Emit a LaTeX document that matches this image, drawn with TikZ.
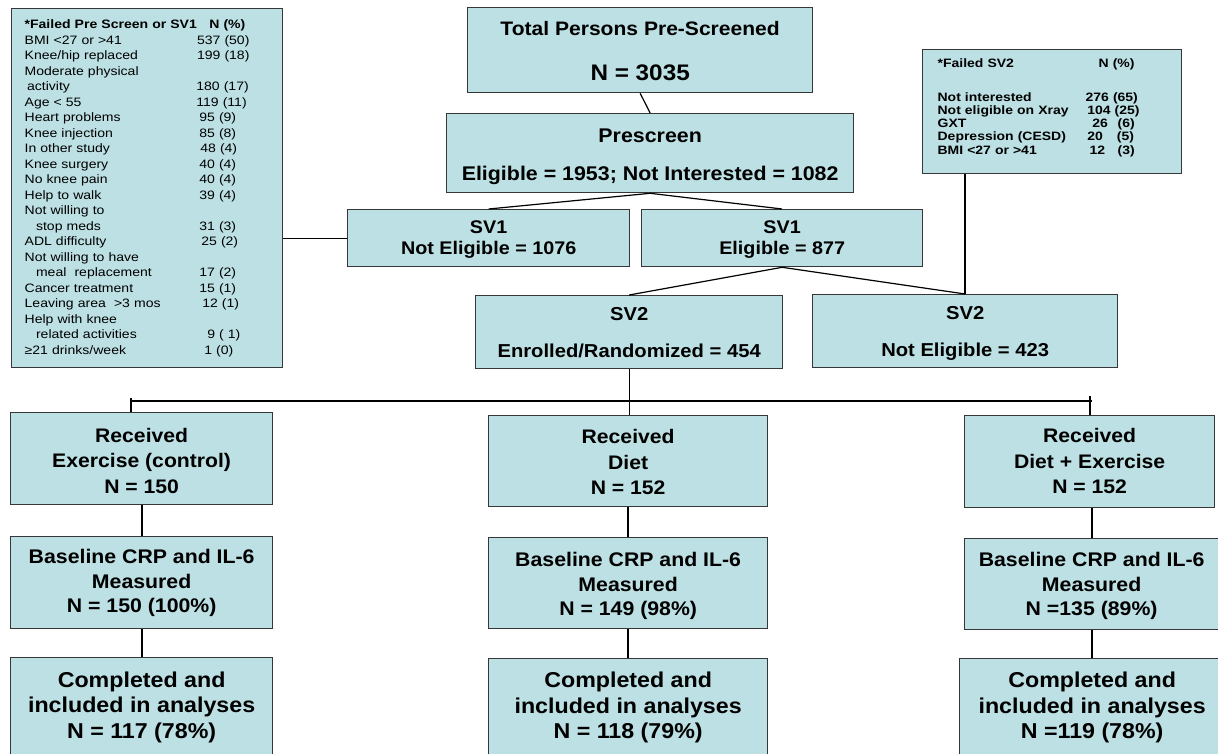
\documentclass[tikz,border=0pt]{standalone}
\usepackage{fontspec}
\setmainfont{Liberation Sans}[FakeStretch=1.08]
\newfontfamily\smallfam{Liberation Sans}[FakeStretch=1.15]
\definecolor{boxfill}{RGB}{188,224,227}
\definecolor{boxline}{RGB}{55,55,55}
\newcommand{\LRow}[3]{\makebox[#1pt][l]{#2}{#3}}
\begin{document}
\begin{tikzpicture}[x=1pt,y=-1pt,
  box/.style={draw=boxline, fill=boxfill, line width=1.3pt, inner sep=0pt,
    anchor=north west, align=center, text depth=0pt},
  th/.style={text height=#1pt},
  listbox/.style={text height=0pt, text depth=#1pt},
  conn/.style={draw=black, line width=1.2pt},
  vconn/.style={draw=black, line width=1.9pt},
  fTop/.style={font=\fontsize{19.5}{45}\selectfont\bfseries},
  fPre/.style={font=\fontsize{19.8}{38}\selectfont\bfseries},
  fSVa/.style={font=\fontsize{18.3}{21}\selectfont\bfseries},
  fSVb/.style={font=\fontsize{18.7}{37}\selectfont\bfseries},
  fRec/.style={font=\fontsize{19.6}{25.5}\selectfont\bfseries},
  fBase/.style={font=\fontsize{19.7}{24.5}\selectfont\bfseries},
  fComp/.style={font=\fontsize{21.5}{25.5}\selectfont\bfseries},
  fList/.style={font=\smallfam\fontsize{12.2}{15.48}\selectfont},
  fList2/.style={font=\smallfam\bfseries\fontsize{12.15}{13.2}\selectfont}
]
\useasboundingbox (0,0) rectangle (1218,754);
\fill[white] (0,0) rectangle (1218,754);
\clip (0,0) rectangle (1218,754);

% top chain
\node[box, fTop, th=61, minimum width=345pt, minimum height=85pt] (total) at (467,7)
  {Total Persons Pre-Screened\\{\fontsize{22.5}{22}\selectfont N = 3035}};
\node[box, fPre, th=55, minimum width=407pt, minimum height=79pt] (pre) at (446,113)
  {Prescreen\\Eligible = 1953; Not Interested = 1082};
\node[box, fSVa, th=33, minimum width=282pt, minimum height=57pt] (sv1ne) at (347,209)
  {SV1\\Not Eligible = 1076};
\node[box, fSVa, th=33, minimum width=281pt, minimum height=57pt] (sv1e) at (641,209)
  {SV1\\Eligible = 877};
\node[box, fSVb, th=51, minimum width=307pt, minimum height=73pt] (sv2e) at (475,295)
  {SV2\\Enrolled/Randomized = 454};
\node[box, fSVb, th=51, minimum width=305pt, minimum height=73pt] (sv2n) at (812,294)
  {SV2\\Not Eligible = 423};

% left list box
\node[box, fList, listbox=318.4, align=left, text width=245pt, minimum width=271pt, minimum height=359pt] (left) at (11,8) {%
\LRow{184.7}{\bfseries *Failed Pre Screen or SV1}{\bfseries N (\%)}\\
\LRow{172.4}{BMI <27 or >41}{537 (50)}\\
\LRow{172.4}{Knee/hip replaced}{199 (18)}\\
Moderate physical\\
\LRow{171.7}{\hspace*{2.4pt}activity}{180 (17)}\\
\LRow{171.7}{Age < 55}{119 (11)}\\
\LRow{174.7}{Heart problems}{95 (9)}\\
\LRow{174.7}{Knee injection}{85 (8)}\\
\LRow{175.7}{In other study}{48 (4)}\\
\LRow{174.7}{Knee surgery}{40 (4)}\\
\LRow{174.7}{No knee pain}{40 (4)}\\
\LRow{174.7}{Help to walk}{39 (4)}\\
Not willing to\\
\LRow{174.7}{\hspace*{11.4pt}stop meds}{31 (3)}\\
\LRow{176.7}{ADL difficulty}{25 (2)}\\
Not willing to have\\
\LRow{174.7}{\hspace*{11.4pt}meal\ \ replacement}{17 (2)}\\
\LRow{174.7}{Cancer treatment}{15 (1)}\\
\LRow{177.7}{Leaving area\ \ >3 mos}{12 (1)}\\
Help with knee\\
\LRow{182.7}{\hspace*{11.4pt}related activities}{9 ( 1)}\\
\LRow{179.7}{≥21 drinks/week}{1 (0)}};

% right list box
\node[box, fList2, listbox=88.6, align=left, text width=229pt, minimum width=259pt, minimum height=124pt] (fsv2) at (922,49) {%
\LRow{161}{*Failed SV2}{N (\%)}\\[20.8pt]
\LRow{148}{Not interested}{276 (65)}\\
\LRow{149.7}{Not eligible on Xray}{104 (25)}\\
\LRow{154.7}{GXT}{\LRow{25.3}{26}{(6)}}\\
\LRow{149.7}{Depression (CESD)}{\LRow{29.6}{20}{(5)}}\\
\LRow{152}{BMI <27 or >41}{\LRow{28}{12}{(3)}}};

% arms
\node[box, fRec, th=69, minimum width=262pt, minimum height=92pt] (recL) at (10,412)
  {Received\\Exercise (control)\\N = 150};
\node[box, fRec, th=67, minimum width=279pt, minimum height=91pt] (recM) at (488,415)
  {Received\\Diet\\N = 152};
\node[box, fRec, th=64, minimum width=250pt, minimum height=92pt] (recR) at (964,415)
  {Received\\Diet + Exercise\\N = 152};
\node[box, fBase, th=60, minimum width=262pt, minimum height=92pt] (baseL) at (10,536)
  {Baseline CRP and IL-6\\Measured\\N = 150 (100\%)};
\node[box, fBase, th=65, minimum width=279pt, minimum height=91pt] (baseM) at (488,537)
  {Baseline CRP and IL-6\\Measured\\N = 149 (98\%)};
\node[box, fBase, th=63, minimum width=254pt, minimum height=91pt] (baseR) at (964,538)
  {Baseline CRP and IL-6\\Measured\\N =135 (89\%)};
\node[box, fComp, th=61, minimum width=262pt, minimum height=100pt] (compL) at (10,657)
  {Completed and\\included in analyses\\N = 117 (78\%)};
\node[box, fComp, th=60, minimum width=279pt, minimum height=100pt] (compM) at (488,658)
  {Completed and\\included in analyses\\N = 118 (79\%)};
\node[box, fComp, th=60, minimum width=265pt, minimum height=100pt] (compR) at (959,658)
  {Completed and\\included in analyses\\N =119 (78\%)};

% connectors
\draw[conn] (total.south) -- (pre.north);
\draw[conn] (pre.south) -- (sv1ne.north);
\draw[conn] (pre.south) -- (sv1e.north);
\draw[conn] (sv1ne.west) -- (sv1ne.west -| left.east);
\draw[conn] (sv1e.south) -- (sv2e.north);
\draw[conn] (sv1e.south) -- (sv2n.north);
\draw[vconn] (sv2n.north) -- (sv2n.north |- fsv2.south);
\draw[conn] (sv2e.south) -- (sv2e.south |- recM.north);
\coordinate (barL) at (131,401);
\coordinate (barR) at (1092,401);
\draw[conn] (barL) -- (barR);
\draw[conn] (barL) ++(0,-3) -- (barL |- recL.north);
\draw[vconn] (recR.north) -- ++(0,-19);
\draw[vconn] (recL.south) -- (baseL.north);
\draw[vconn] (baseL.south) -- (compL.north);
\draw[vconn] (recM.south) -- (baseM.north);
\draw[vconn] (baseM.south) -- (compM.north);
\draw[vconn] (baseR.north) -- (baseR.north |- recR.south);
\draw[vconn] (compR.north) -- (compR.north |- baseR.south);
\end{tikzpicture}
\end{document}
